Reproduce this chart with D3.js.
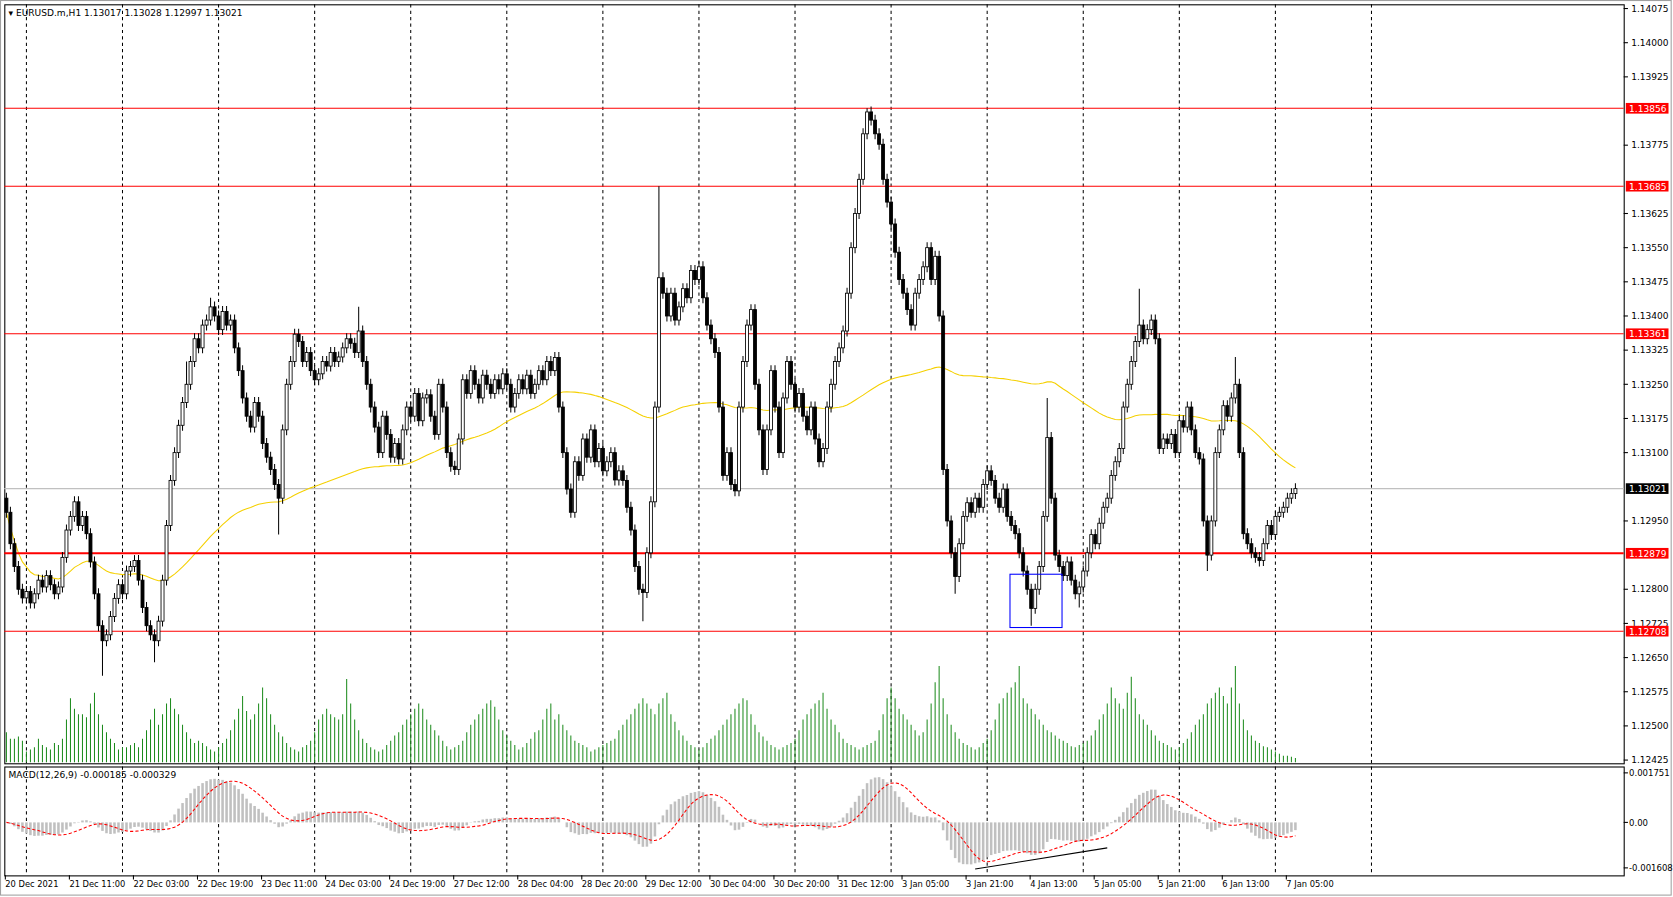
<!DOCTYPE html>
<html><head><meta charset="utf-8">
<script src="https://cdn.jsdelivr.net/npm/d3@7/dist/d3.min.js"></script>
<style>body{margin:0;background:#fff;overflow:hidden}text{font-family:"DejaVu Sans",sans-serif;font-size:8.5px;fill:#000}</style>
</head><body><svg id="c" width="1673" height="897"></svg>
<script>
// closes in points above 1.12000 (1 point = 0.00001)
const closes = [969,900,850,800,781,795,770,790,820,805,
830,810,790,805,870,930,960,992,940,960,
922,860,790,720,687,700,740,780,810,790,
840,850,863,820,760,720,700,687,730,820,
940,1039,1100,1160,1210,1250,1300,1350,1330,1380,
1391,1420,1400,1370,1410,1380,1391,1330,1280,1220,
1180,1156,1210,1180,1120,1090,1063,1030,1000,1150,
1250,1300,1360,1344,1300,1320,1280,1260,1273,1300,
1290,1320,1300,1310,1330,1350,1340,1320,1367,1300,
1250,1200,1156,1100,1180,1140,1090,1120,1086,1150,
1200,1180,1230,1170,1220,1227,1180,1140,1250,1200,
1100,1070,1063,1130,1260,1230,1280,1250,1220,1270,
1250,1230,1260,1240,1273,1250,1200,1230,1260,1240,
1270,1230,1250,1280,1260,1300,1280,1309,1200,1100,
1020,969,1080,1050,1130,1090,1150,1080,1109,1060,
1080,1100,1040,1060,1039,980,930,850,800,793,
880,992,1200,1484,1450,1400,1450,1391,1420,1460,
1440,1500,1480,1508,1440,1380,1350,1320,1200,1050,
1100,1030,1016,1200,1300,1380,1414,1250,1150,1063,
1150,1280,1200,1100,1220,1300,1250,1200,1230,1180,
1150,1200,1130,1080,1109,1200,1250,1300,1330,1367,
1450,1550,1625,1700,1800,1848,1830,1800,1777,1700,
1650,1602,1540,1480,1450,1414,1380,1450,1480,1508,
1550,1480,1531,1400,1063,950,880,828,900,960,
990,969,1000,980,1030,1060,1039,1000,980,1020,
960,940,922,880,840,800,758,800,850,960,
1133,1000,875,850,830,860,820,790,805,840,
880,920,900,945,980,1000,1050,1080,1109,1200,
1250,1300,1344,1380,1350,1370,1391,1350,1109,1130,
1120,1140,1100,1170,1156,1200,1150,1100,1086,950,
875,950,1100,1150,1203,1180,1220,1250,1100,922,
900,880,870,863,900,940,920,960,969,980,
1000,1010,1021];
// notable wick extremes [barIndex, high or low point]
const spikeHighs = [[163,1685],[215,1856],[260,1220],[283,1460],[307,1310],[51,1440],[88,1420],[45,1300]];
const spikeLows = [[24,610],[37,640],[68,920],[159,730],[237,790],[256,720],[268,760],[300,840],[313,850]];
const volumes = [28,22,22,24,20,10,12,14,22,16,
14,12,18,16,22,40,60,50,45,45,
42,55,65,45,35,28,22,18,12,14,
14,16,18,14,22,30,40,50,35,45,
55,60,50,45,35,28,22,18,20,18,
15,12,10,14,18,22,30,40,50,62,
48,40,45,55,70,60,45,35,28,24,
18,14,12,10,14,16,20,28,40,45,
50,45,42,40,45,78,55,40,30,22,
18,14,12,10,12,16,20,25,28,35,
40,45,50,55,50,40,35,30,25,20,
15,12,14,16,20,28,35,40,45,50,
55,58,52,40,30,25,20,16,12,14,
18,22,28,30,40,50,55,40,45,35,
30,25,20,18,16,14,10,12,14,16,
18,20,22,30,35,40,45,50,55,60,
55,50,45,55,60,65,45,38,30,25,
20,16,14,12,14,18,22,25,30,35,
40,45,50,55,60,58,45,35,28,24,
20,16,14,12,14,16,18,22,30,40,
45,50,55,58,65,50,40,35,28,22,
18,16,14,12,14,16,18,20,30,45,
60,70,60,50,45,40,35,30,25,28,
40,55,75,90,60,45,35,28,22,18,
16,14,12,14,18,22,30,40,55,60,
65,70,75,90,60,55,50,45,40,35,
30,28,25,22,20,18,15,14,16,18,
20,25,30,40,45,55,70,60,55,50,
65,80,60,45,40,35,30,25,20,18,
16,14,12,14,18,22,28,35,40,45,
55,60,65,70,62,55,70,90,55,40,
30,25,20,18,15,14,12,10,8,6,
6,5,4];
const priceTicks = [1.14075,1.14000,1.13925,1.13775,1.13625,1.13550,1.13475,1.13400,1.13325,1.13250,1.13175,1.13100,1.12950,1.12800,1.12725,1.12650,1.12575,1.12500,1.12425];
const hLines = [1.13856,1.13685,1.13361,1.12879,1.12708];
const currentPrice = 1.13021;
const timeLabels = ["20 Dec 2021","21 Dec 11:00","22 Dec 03:00","22 Dec 19:00","23 Dec 11:00","24 Dec 03:00","24 Dec 19:00","27 Dec 12:00","28 Dec 04:00","28 Dec 20:00","29 Dec 12:00","30 Dec 04:00","30 Dec 20:00","31 Dec 12:00","3 Jan 05:00","3 Jan 21:00","4 Jan 13:00","5 Jan 05:00","5 Jan 21:00","6 Jan 13:00","7 Jan 05:00"];
const macdTicks = [0.001751,0,-0.001608];
const boxRange = {i0:250.7,i1:263.7,p0:1.12833,p1:1.12716};
const macdTrend = [[242,-0.00165],[275,-0.00090]];

const root = d3.select("#c");
const svg = root.append("g").attr("transform","scale(1.0675)");
const L=4, R=1521, T=4, MB=715, MT=718, MBot=820;
const x = d3.scaleLinear().domain([0,1]).range([6,9.75]);
const y = d3.scaleLinear().domain([1.12425,1.14075]).range([712,8]);
const yv = d3.scaleLinear().domain([0,100]).range([714,614]);
const ym = d3.scaleLinear().domain([-0.001608,0.001751]).range([813,724]);
const P = v=>1.12+v/1e5;

svg.append("rect").attr("x",0.5).attr("y",0.5).attr("width",1565).attr("height",838).attr("fill","none").attr("stroke","#a0a0a0");
svg.append("rect").attr("x",L+.5).attr("y",T+.5).attr("width",R-L).attr("height",MB-T).attr("fill","none").attr("stroke","#000");
svg.append("rect").attr("x",L+.5).attr("y",MT+.5).attr("width",R-L).attr("height",MBot-MT).attr("fill","none").attr("stroke","#000");

const gridIdx = d3.range(5,345,24);
svg.append("g").selectAll("line").data(gridIdx).join("line")
 .attr("x1",d=>x(d)).attr("x2",d=>x(d)).attr("y1",T).attr("y2",MBot)
 .attr("stroke","#000").attr("stroke-width",0.95).attr("stroke-dasharray","3,3");

svg.append("line").attr("x1",L).attr("x2",R).attr("y1",y(currentPrice)).attr("y2",y(currentPrice)).attr("stroke","#c0c0c0");

svg.append("g").selectAll("line").data(volumes).join("line")
 .attr("x1",(d,i)=>x(i)).attr("x2",(d,i)=>x(i))
 .attr("y1",yv(0)).attr("y2",d=>yv(d)).attr("stroke","#1a8a1a").attr("stroke-width",0.95);

const ma = closes.map((c,i)=>{const s=closes.slice(Math.max(0,i-99),i+1);return P(d3.mean(s));});
svg.append("path").attr("d",d3.line().x((d,i)=>x(i)).y(d=>y(d))(ma)).attr("fill","none").attr("stroke","#f5d000").attr("stroke-width",1);

svg.append("g").selectAll("line").data(hLines).join("line")
 .attr("x1",L).attr("x2",R).attr("y1",d=>y(d)).attr("y2",d=>y(d))
 .attr("stroke","#ff0000").attr("stroke-width",d=>d===1.12879?2:1);

const candles = closes.map((c,i)=>{
 const o = i? closes[i-1] : 1000;
 let h = Math.max(o,c)+12, l = Math.min(o,c)-12;
 spikeHighs.forEach(s=>{if(s[0]===i)h=s[1];});
 spikeLows.forEach(s=>{if(s[0]===i)l=s[1];});
 return {i,o:P(o),c:P(c),h:P(h),l:P(l)};
});
const cg = svg.append("g");
candles.forEach(d=>{
 const cx=x(d.i);
 cg.append("line").attr("x1",cx).attr("x2",cx).attr("y1",y(d.h)).attr("y2",y(d.l)).attr("stroke","#000").attr("stroke-width",0.95);
 const top=y(Math.max(d.o,d.c)), bh=Math.max(1,Math.abs(y(d.o)-y(d.c)));
 cg.append("rect").attr("x",cx-1.4).attr("y",top).attr("width",2.8).attr("height",bh)
  .attr("fill",d.c>=d.o?"#fff":"#000").attr("stroke","#000").attr("stroke-width",0.8);
});

svg.append("rect").attr("x",x(boxRange.i0)).attr("y",y(boxRange.p0)).attr("width",x(boxRange.i1)-x(boxRange.i0)).attr("height",y(boxRange.p1)-y(boxRange.p0)).attr("fill","none").attr("stroke","#0000ff");

const ema=(arr,n)=>{const k=2/(n+1);let e=arr[0];return arr.map(v=>e=v*k+e*(1-k));};
const cp = closes.map(P);
const e12=ema(cp,12), e26=ema(cp,26);
const macd = e12.map((v,i)=>v-e26[i]);
const sig = macd.map((v,i)=>d3.mean(macd.slice(Math.max(0,i-8),i+1)));
svg.append("g").selectAll("line").data(macd).join("line")
 .attr("x1",(d,i)=>x(i)).attr("x2",(d,i)=>x(i))
 .attr("y1",ym(0)).attr("y2",d=>ym(d)).attr("stroke","#c0c0c0").attr("stroke-width",2.4);
svg.append("path").attr("d",d3.line().x((d,i)=>x(i)).y(d=>ym(d))(sig)).attr("fill","none").attr("stroke","#ff0000").attr("stroke-dasharray","3,2");
svg.append("line").attr("x1",x(macdTrend[0][0])).attr("y1",ym(macdTrend[0][1])).attr("x2",x(macdTrend[1][0])).attr("y2",ym(macdTrend[1][1])).attr("stroke","#000");

const ax = svg.append("g");
priceTicks.forEach(p=>{const yy=y(p);
 ax.append("line").attr("x1",R).attr("x2",R+4).attr("y1",yy).attr("y2",yy).attr("stroke","#000");
 ax.append("text").attr("x",R+7).attr("y",yy+3).text(p.toFixed(5));});
hLines.concat([currentPrice]).forEach(p=>{const yy=y(p);
 ax.append("rect").attr("x",R+2).attr("y",yy-5).attr("width",40).attr("height",10).attr("fill",p===currentPrice?"#000":"#ff0000");
 ax.append("text").attr("x",R+5).attr("y",yy+3.5).style("fill","#fff").text(p.toFixed(5));});
macdTicks.forEach(p=>{const yy=ym(p);
 ax.append("line").attr("x1",R).attr("x2",R+4).attr("y1",yy).attr("y2",yy).attr("stroke","#000");
 ax.append("text").attr("x",R+5).attr("y",yy+3).style("font-size","8px").text(p===0?"0.00":p.toFixed(6));});

timeLabels.forEach((t,k)=>{const xx=x(k*16)-1;
 svg.append("line").attr("x1",xx).attr("x2",xx).attr("y1",MBot).attr("y2",MBot+4).attr("stroke","#000");
 svg.append("text").attr("x",xx).attr("y",831).style("font-size","7.8px").text(t);});

svg.append("text").attr("x",8).attr("y",15).text("\u25BE EURUSD.m,H1  1.13017 1.13028 1.12997 1.13021");
svg.append("text").attr("x",8).attr("y",729).text("MACD(12,26,9) -0.000185 -0.000329");
</script></body></html>
